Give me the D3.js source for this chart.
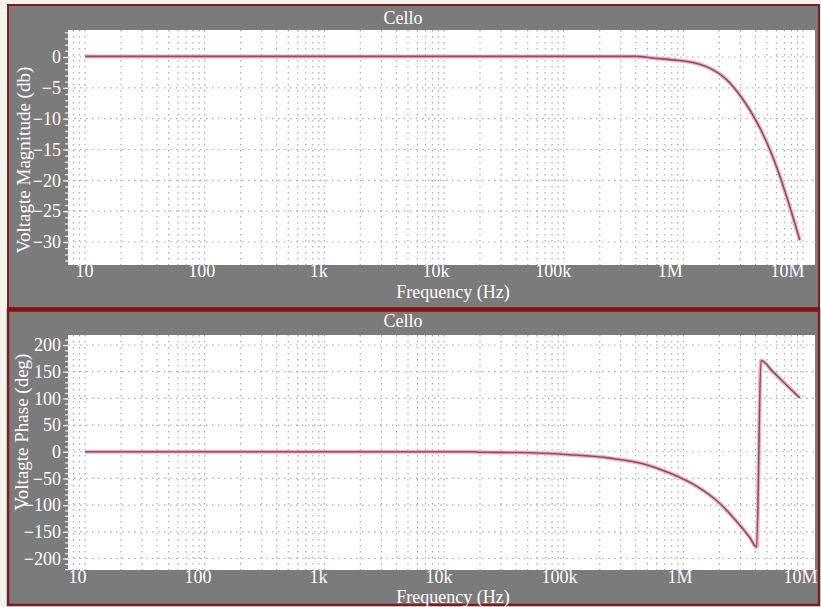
<!DOCTYPE html>
<html><head><meta charset="utf-8">
<script src="https://cdn.jsdelivr.net/npm/d3@7"></script>
<style>
html,body{margin:0;padding:0;background:#f5f3ee;}
svg{display:block;}
svg text{font-family:"Liberation Serif","Times New Roman","DejaVu Serif",serif !important;fill:#fff;}
</style></head>
<body>
<svg id="chart" width="821" height="607" font-family="Liberation Serif, serif"></svg>
<script>
// ---- data ----
const chartTitle = "Cello";
const xTickValues = [10, 100, 1e3, 1e4, 1e5, 1e6, 1e7];
const xTickLabels = ["10", "100", "1k", "10k", "100k", "1M", "10M"];
const magTicks = [0, -5, -10, -15, -20, -25, -30];
const phaseTicks = [200, 150, 100, 50, 0, -50, -100, -150, -200];

const magFreq = [10, 1e5, 4.0e5, 5.8e5, 8.5e5, 1.2e6, 1.66e6, 2.31e6, 2.97e6, 3.6e6, 4.36e6, 5.28e6, 6.4e6, 7.76e6, 9.4e6];
const magDb   = [0.1, 0.1, 0.1, -0.2, -0.5, -0.9, -1.8, -3.7, -6.2, -8.6, -11.5, -15.0, -19.3, -24.3, -29.7];

const phFreq = [10, 1.8e4, 2.0e4, 4.3e4, 1.12e5, 2.44e5, 4.6e5, 7.7e5, 1.3e6, 2.0e6, 2.8e6, 3.6e6, 4.1e6, 4.45e6, 5.6e6, 7.2e6, 9.4e6];
const phDeg  = [0, 0, -1, -1.5, -5.6, -12, -22.5, -40, -65, -96, -131, -161, -179, 171, 150, 126, 101];

// ---- drawing ----
const FONT = '"Liberation Serif","Times New Roman",serif';
const svg = d3.select("#chart");
const GRAY = "#7b7b7b", BORDER = "#7e1c20";
const plotL = 68, plotR = 815;
const x = d3.scaleLog().domain([10, 1e7]).range([85, 803]);

const panels = [
  {top:5, bottom:308, pTop:30, pBot:265,
   y: d3.scaleLinear().domain([0, -30]).range([57, 242]),
   ticks: magTicks, minorStep: 1, yLabel: "Voltagte Magnitude (db)",
   yLabelPos:[30,160], titleY:24, xLabelY:277, xTitleY:298,
   xLab: d3.scaleLog().domain([10,1e7]).range([84,787]),
   fx: magFreq, fy: magDb},
  {top:309, bottom:605, pTop:335, pBot:570,
   y: d3.scaleLinear().domain([200, -200]).range([345, 558.5]),
   ticks: phaseTicks, minorStep: 10, yLabel: "Voltagte Phase (deg)",
   yLabelPos:[28,432], titleY:327, xLabelY:583, xTitleY:603,
   xLab: d3.scaleLog().domain([10,1e7]).range([77,800]),
   fx: phFreq, fy: phDeg}
];

panels.forEach((p, i) => {
  const g = svg.append("g");
  g.append("rect").attr("x", 8).attr("y", p.top).attr("width", 811).attr("height", p.bottom - p.top)
    .attr("fill", GRAY).attr("stroke", BORDER).attr("stroke-width", i === 1 ? 2.5 : 2);
  g.append("rect").attr("x", plotL).attr("y", p.pTop).attr("width", plotR - plotL).attr("height", p.pBot - p.pTop)
    .attr("fill", "#fff");

  const clipId = "clip" + i;
  svg.append("clipPath").attr("id", clipId).append("rect")
    .attr("x", plotL).attr("y", p.pTop).attr("width", plotR - plotL).attr("height", p.pBot - p.pTop);

  // vertical grid (every multiple)
  const vgrid = [];
  for (let e = 0; e <= 7; e++) for (let m = 1; m <= 9; m++) {
    const f = m * Math.pow(10, e);
    const px = x(f);
    if (px > plotL + 1 && px < plotR - 1) vgrid.push(f);
  }
  const grid = g.append("g").attr("clip-path", `url(#${clipId})`);
  grid.selectAll("line.v").data(vgrid).join("line")
    .attr("x1", d => x(d)).attr("x2", d => x(d)).attr("y1", p.pTop).attr("y2", p.pBot)
    .attr("stroke", "#aaa").attr("stroke-width", 1.2).attr("stroke-dasharray", "1.5,4.5");
  grid.selectAll("line.h").data(p.ticks).join("line")
    .attr("x1", plotL).attr("x2", plotR).attr("y1", d => p.y(d)).attr("y2", d => p.y(d))
    .attr("stroke", "#aaa").attr("stroke-width", 1.2).attr("stroke-dasharray", "1.5,4.5");

  // minor ruler ticks
  const yd = [p.y.invert(p.pBot), p.y.invert(p.pTop)].sort((a,b)=>a-b);
  const minor = d3.range(Math.ceil(yd[0]/p.minorStep)*p.minorStep, yd[1], p.minorStep);
  const ruler = g.append("g").attr("transform", `translate(${plotL},0)`)
    .call(d3.axisLeft(p.y).tickValues(minor).tickSize(3).tickFormat(""));
  ruler.select(".domain").remove();
  ruler.selectAll("line").attr("stroke", "#e6e6e6").attr("stroke-width", 1.3);

  // major y axis
  const yAx = g.append("g").attr("transform", `translate(${plotL},0)`)
    .call(d3.axisLeft(p.y).tickValues(p.ticks).tickSize(5).tickPadding(2));
  yAx.attr("font-family", FONT).attr("font-size", 18);
  yAx.select(".domain").remove();
  yAx.selectAll("line").attr("stroke", "#eee").attr("stroke-width", 1.2);
  yAx.selectAll("text").attr("fill", "#fff");

  // x axis labels
  const xAx = g.append("g").attr("transform", `translate(0,${p.xLabelY})`)
    .call(d3.axisBottom(p.xLab).tickValues(xTickValues).tickSize(0).tickPadding(0)
      .tickFormat((d, k) => xTickLabels[k]));
  xAx.attr("font-family", FONT).attr("font-size", 18);
  xAx.select(".domain").remove();
  xAx.selectAll("text").attr("dy", 0).attr("fill", "#fff");

  // titles
  g.append("text").attr("x", 403).attr("y", p.titleY).attr("text-anchor", "middle")
    .attr("font-size", 18).text(chartTitle);
  g.append("text").attr("x", 453).attr("y", p.xTitleY).attr("text-anchor", "middle")
    .attr("font-size", 18).text("Frequency (Hz)");
  g.append("text").attr("transform", `translate(${p.yLabelPos[0]},${p.yLabelPos[1]}) rotate(-90)`)
    .attr("text-anchor", "middle").attr("font-size", 19).text(p.yLabel);

  // curve
  const pts = p.fx.map((f, k) => [f, p.fy[k]]);
  const line = d3.line().x(d => x(d[0])).y(d => p.y(d[1])).curve(d3.curveMonotoneX);
  const lg = g.append("g").attr("clip-path", `url(#${clipId})`);
  lg.append("path").attr("d", line(pts)).attr("fill", "none")
    .attr("stroke", "#ebb3c4").attr("stroke-width", 4).attr("stroke-linejoin", "round");
  lg.append("path").attr("d", line(pts)).attr("fill", "none")
    .attr("stroke", "#98476a").attr("stroke-width", 1.6).attr("stroke-linejoin", "round");
});
// thick separator between panels
svg.append("line").attr("x1", 8).attr("x2", 819).attr("y1", 310).attr("y2", 310)
  .attr("stroke", "#8a0f15").attr("stroke-width", 3.5);
</script>
</body></html>
